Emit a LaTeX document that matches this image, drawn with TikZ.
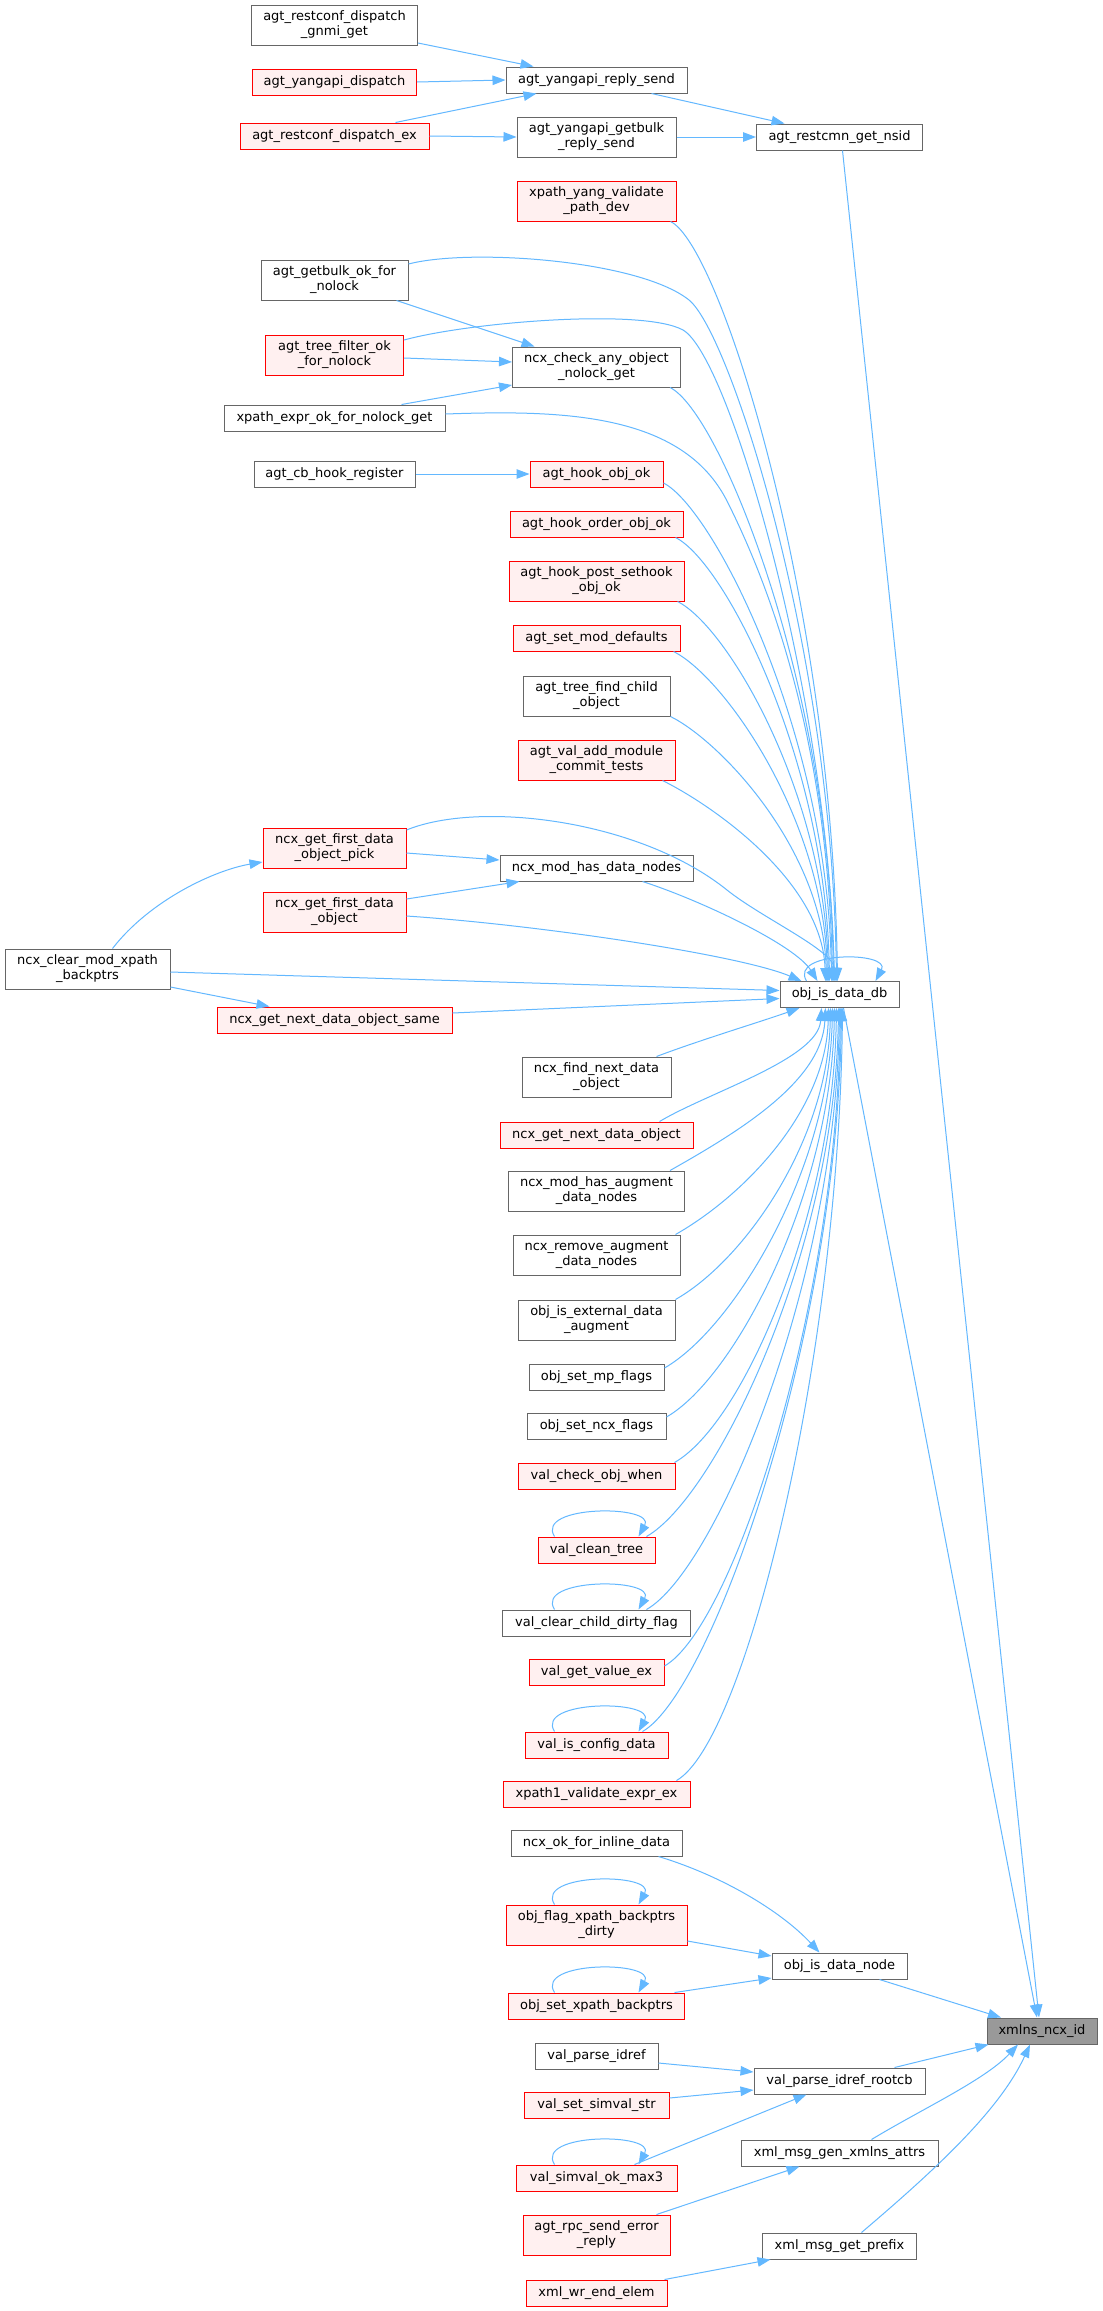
\documentclass[tikz,border=0pt]{standalone}
\usepackage{fontspec}
\setmainfont{DejaVu Sans}
\usetikzlibrary{arrows.meta}
\definecolor{edgec}{HTML}{63B8FF}
\definecolor{bordc}{HTML}{666666}
\definecolor{redfill}{HTML}{FFF0F0}
\definecolor{tgtfill}{HTML}{999999}
\begin{document}
\begin{tikzpicture}[x=1pt,y=-1pt,font=\fontsize{13}{15}\selectfont,
  fn/.style={draw=bordc,fill=white,line width=1pt,inner sep=0pt,align=center,minimum height=26pt},
  rn/.style={fn,draw=red,fill=redfill},
  tn/.style={fn,fill=tgtfill},
  two/.style={minimum height=40pt},
  e/.style={draw=edgec,line width=1pt,-{Triangle[length=13pt,width=9.5pt]}}]
\fill[white] (0,0) rectangle (1103,2311);
\useasboundingbox (0,0) rectangle (1103,2311);
% column 1
\node[fn,two,minimum width=166pt] (gnmi) at (334.5,25) {agt\_restconf\_dispatch\\\_gnmi\_get};
\node[rn,minimum width=164pt] (ydisp) at (334.5,82) {agt\_yangapi\_dispatch};
\node[rn,minimum width=189pt] (rdex) at (334.5,136) {agt\_restconf\_dispatch\_ex};
\node[fn,two,minimum width=147pt] (getbulkok) at (334.5,280) {agt\_getbulk\_ok\_for\\\_nolock};
\node[rn,two,minimum width=138pt] (treefilter) at (334.5,355) {agt\_tree\_filter\_ok\\\_for\_nolock};
\node[fn,minimum width=221pt] (xpathexpr) at (334.5,418) {xpath\_expr\_ok\_for\_nolock\_get};
\node[fn,minimum width=161pt] (cbhook) at (334.5,474) {agt\_cb\_hook\_register};
\node[rn,two,minimum width=143pt] (pick) at (334.5,848) {ncx\_get\_first\_data\\\_object\_pick};
\node[rn,two,minimum width=143pt] (firstdata) at (334.5,912) {ncx\_get\_first\_data\\\_object};
\node[rn,minimum width=235pt] (nextsame) at (334.5,1020) {ncx\_get\_next\_data\_object\_same};
% column 0
\node[fn,two,minimum width=165pt] (clearmod) at (87.5,969) {ncx\_clear\_mod\_xpath\\\_backptrs};
% column 2
\node[fn,minimum width=181pt] (yreply) at (596.5,80) {agt\_yangapi\_reply\_send};
\node[fn,two,minimum width=159pt] (ygetbulk) at (596.5,137) {agt\_yangapi\_getbulk\\\_reply\_send};
\node[rn,two,minimum width=159pt] (xyang) at (596.5,201) {xpath\_yang\_validate\\\_path\_dev};
\node[fn,two,minimum width=168pt] (ncxcheck) at (596.5,367) {ncx\_check\_any\_object\\\_nolock\_get};
\node[rn,minimum width=133pt] (hookobj) at (596.5,474) {agt\_hook\_obj\_ok};
\node[rn,minimum width=173pt] (hookorder) at (596.5,524) {agt\_hook\_order\_obj\_ok};
\node[rn,two,minimum width=175pt] (hookpost) at (596.5,581) {agt\_hook\_post\_sethook\\\_obj\_ok};
\node[rn,minimum width=167pt] (setmod) at (596.5,638) {agt\_set\_mod\_defaults};
\node[fn,two,minimum width=147pt] (treefind) at (596.5,696) {agt\_tree\_find\_child\\\_object};
\node[rn,two,minimum width=157pt] (valadd) at (596.5,760) {agt\_val\_add\_module\\\_commit\_tests};
\node[fn,minimum width=193pt] (modhas) at (596.5,868) {ncx\_mod\_has\_data\_nodes};
\node[fn,two,minimum width=149pt] (findnext) at (596.5,1077) {ncx\_find\_next\_data\\\_object};
\node[rn,minimum width=193pt] (nextdata) at (596.5,1135) {ncx\_get\_next\_data\_object};
\node[fn,two,minimum width=176pt] (modaug) at (596.5,1191) {ncx\_mod\_has\_augment\\\_data\_nodes};
\node[fn,two,minimum width=167pt] (remaug) at (596.5,1255) {ncx\_remove\_augment\\\_data\_nodes};
\node[fn,two,minimum width=157pt] (extaug) at (596.5,1320) {obj\_is\_external\_data\\\_augment};
\node[fn,minimum width=135pt] (mpflags) at (596.5,1377) {obj\_set\_mp\_flags};
\node[fn,minimum width=139pt] (ncxflags) at (596.5,1426) {obj\_set\_ncx\_flags};
\node[rn,minimum width=157pt] (checkwhen) at (596.5,1476) {val\_check\_obj\_when};
\node[rn,minimum width=117pt] (cleantree) at (596.5,1550) {val\_clean\_tree};
\node[fn,minimum width=188pt] (cleardirty) at (596.5,1623) {val\_clear\_child\_dirty\_flag};
\node[rn,minimum width=135pt] (getvalue) at (596.5,1672) {val\_get\_value\_ex};
\node[rn,minimum width=143pt] (isconfig) at (596.5,1745) {val\_is\_config\_data};
\node[rn,minimum width=187pt] (xpath1) at (596.5,1794) {xpath1\_validate\_expr\_ex};
\node[fn,minimum width=171pt] (inlinedata) at (596.5,1843) {ncx\_ok\_for\_inline\_data};
\node[rn,two,minimum width=181pt] (flagdirty) at (596.5,1925) {obj\_flag\_xpath\_backptrs\\\_dirty};
\node[rn,minimum width=176pt] (setxpath) at (596.5,2006) {obj\_set\_xpath\_backptrs};
\node[fn,minimum width=123pt] (parseidref) at (596.5,2056) {val\_parse\_idref};
\node[rn,minimum width=145pt] (setsimval) at (596.5,2105) {val\_set\_simval\_str};
\node[rn,minimum width=161pt] (simvalmax) at (596.5,2178) {val\_simval\_ok\_max3};
\node[rn,two,minimum width=147pt] (rpcerr) at (596.5,2235) {agt\_rpc\_send\_error\\\_reply};
\node[rn,minimum width=141pt] (wrend) at (596.5,2293) {xml\_wr\_end\_elem};
% column 3
\node[fn,minimum width=166pt] (nsid) at (839.5,137) {agt\_restcmn\_get\_nsid};
\node[fn,minimum width=119pt] (db) at (839.5,994.5) {obj\_is\_data\_db};
\node[fn,minimum width=135pt] (datanode) at (839.5,1966) {obj\_is\_data\_node};
\node[fn,minimum width=171pt] (rootcb) at (839.5,2081) {val\_parse\_idref\_rootcb};
\node[fn,minimum width=197pt] (genxmlns) at (839.5,2153) {xml\_msg\_gen\_xmlns\_attrs};
\node[fn,minimum width=154pt] (getprefix) at (839.5,2246) {xml\_msg\_get\_prefix};
% target
\node[tn,minimum width=110pt] (target) at (1042,2031) {xmlns\_ncx\_id};

% ---- upper left edges
\draw[e] ([yshift=-18pt]gnmi.east) -- ([xshift=-63pt]yreply.north);
\draw[e] (ydisp.east) -- (yreply.west);
\draw[e] ([xshift=61pt]rdex.north) -- ([xshift=-60pt]yreply.south);
\draw[e] (rdex.east) -- (ygetbulk.west);
\draw[e] ([xshift=55pt]yreply.south) -- ([xshift=-55pt]nsid.north);
\draw[e] (ygetbulk.east) -- (nsid.west);
\draw[e] ([xshift=3pt]nsid.south) -- ([xshift=-3pt]target.north);
\draw[e] ([xshift=62pt]getbulkok.south) -- ([xshift=-62pt]ncxcheck.north);
\draw[e] ([yshift=-3pt]treefilter.east) -- ([yshift=5pt]ncxcheck.west);
\draw[e] ([xshift=67pt]xpathexpr.north) -- ([yshift=-18pt]ncxcheck.west);
\draw[e] (cbhook.east) -- (hookobj.west);
\draw[e] ([yshift=-5pt]pick.east) -- ([yshift=8pt]modhas.west);
\draw[e] ([yshift=13pt]firstdata.east) -- ([xshift=-77pt]modhas.south);
\draw[e] ([xshift=25pt]clearmod.north) .. controls (150,900) and (215,870) .. ([yshift=-14pt]pick.west);
\draw[e] ([yshift=-3pt]clearmod.east) -- ([yshift=4pt]db.west);
\draw[e] ([yshift=-18pt]clearmod.east) -- ([xshift=-65pt]nextsame.north);
\draw[e] ([yshift=7pt]nextsame.east) -- ([yshift=-4pt]db.west);

% ---- top group into obj_is_data_db
\draw[e] ([xshift=-6pt]xyang.south east) .. controls (720,245) and (832,600) .. ([xshift=-2pt]db.north);
\draw[e] ([yshift=16pt]getbulkok.east) .. controls (470,248) and (639,260) .. (689,300) .. controls (730,333) and (832,650) .. ([xshift=-3pt]db.north);
\draw[e] ([yshift=15pt]treefilter.east) .. controls (470,322) and (643,308) .. (683,330) .. controls (730,357) and (828,700) .. ([xshift=-5pt]db.north);
\draw[e] ([yshift=4pt]xpathexpr.east) .. controls (560,410) and (682,412) .. (727,501) .. controls (787,620) and (829,780) .. ([xshift=-7pt]db.north);
\draw[e] ([xshift=-11pt]ncxcheck.south east) .. controls (720,412) and (830,685) .. ([xshift=-6pt]db.north);
\draw[e] ([yshift=-9pt]hookobj.east) .. controls (713,508) and (828,732) .. ([xshift=-8pt]db.north);
\draw[e] ([xshift=-8pt]hookorder.south east) .. controls (725,562) and (826,760) .. ([xshift=-10pt]db.north);
\draw[e] ([xshift=-7pt]hookpost.south east) .. controls (727,626) and (825,792) .. ([xshift=-11pt]db.north);
\draw[e] ([xshift=-7pt]setmod.south east) .. controls (723,676) and (824,817) .. ([xshift=-12pt]db.north);
\draw[e] (treefind.south east) .. controls (720,741) and (823,849) .. ([xshift=-13pt]db.north);
\draw[e] ([xshift=-13pt]valadd.south east) .. controls (712,805) and (822,881) .. ([xshift=-14pt]db.north);
\draw[e] ([yshift=18pt]pick.east) .. controls (480,800) and (640,820) .. (727,890) .. controls (762,918) and (833,950) .. ([xshift=-4pt]db.north);
\draw[e] ([xshift=46pt]modhas.south) .. controls (700,900) and (795,945) .. ([xshift=-22pt]db.north);
\draw[e] ([yshift=-4pt]firstdata.east) .. controls (540,925) and (740,955) .. ([xshift=-38pt]db.north);
% self loop
\draw[e] ([xshift=-33pt]db.north) .. controls +(-18,-30) and +(16,-30) .. ([xshift=36pt]db.north);

% ---- bottom group into obj_is_data_db
\draw[e] ([xshift=60pt]findnext.north) .. controls (700,1040) and (760,1022) .. ([xshift=-40pt]db.south);
\draw[e] ([xshift=63pt]nextdata.north) .. controls (709,1092) and (818,1059) .. ([xshift=-18pt]db.south);
\draw[e] ([xshift=-15pt]modaug.north east) .. controls (740,1131) and (822,1081) .. ([xshift=-14pt]db.south);
\draw[e] ([xshift=-5pt]remaug.north east) .. controls (745,1195) and (826,1110) .. ([xshift=-11pt]db.south);
\draw[e] (extaug.north east) .. controls (745,1260) and (828,1140) .. ([xshift=-9pt]db.south);
\draw[e] ([yshift=9pt]mpflags.east) .. controls (734,1328) and (829,1170) .. ([xshift=-7pt]db.south);
\draw[e] ([yshift=9pt]ncxflags.east) .. controls (736,1377) and (831,1192) .. ([xshift=-5pt]db.south);
\draw[e] ([xshift=-1pt]checkwhen.north east) .. controls (744,1423) and (833,1213) .. ([xshift=-3pt]db.south);
\draw[e] ([xshift=50pt]cleantree.north) .. controls (716,1497) and (835,1250) .. ([xshift=-1pt]db.south);
\draw[e] ([xshift=50pt]cleardirty.north) .. controls (716,1570) and (836,1282) .. (db.south);
\draw[e] ([yshift=6pt]getvalue.east) .. controls (734,1626) and (837,1304) .. ([xshift=1pt]db.south);
\draw[e] ([xshift=46pt]isconfig.north) .. controls (712,1692) and (838,1334) .. ([xshift=2pt]db.south);
\draw[e] ([xshift=80pt]xpath1.north) .. controls (746,1741) and (839,1356) .. ([xshift=3pt]db.south);
% self loops
\draw[e] ([xshift=-42pt]cleantree.north) .. controls +(-20,-32) and +(18,-32) .. ([xshift=42pt]cleantree.north);
\draw[e] ([xshift=-42pt]cleardirty.north) .. controls +(-20,-32) and +(18,-32) .. ([xshift=42pt]cleardirty.north);
\draw[e] ([xshift=-42pt]isconfig.north) .. controls +(-20,-32) and +(18,-32) .. ([xshift=42pt]isconfig.north);
\draw[e] ([xshift=-42pt]flagdirty.north) .. controls +(-20,-32) and +(18,-32) .. ([xshift=42pt]flagdirty.north);
\draw[e] ([xshift=-42pt]setxpath.north) .. controls +(-20,-32) and +(18,-32) .. ([xshift=42pt]setxpath.north);
\draw[e] ([xshift=-42pt]simvalmax.north) .. controls +(-20,-32) and +(18,-32) .. ([xshift=42pt]simvalmax.north);

% ---- lower part
\draw[e] ([xshift=4pt]db.south) -- ([xshift=-5pt]target.north);
\draw[e] ([xshift=62pt]inlinedata.south) .. controls (720,1875) and (780,1910) .. ([xshift=-20pt]datanode.north);
\draw[e] ([yshift=-16pt]flagdirty.east) -- ([yshift=10pt]datanode.west);
\draw[e] ([xshift=78pt]setxpath.north) -- ([yshift=-12pt]datanode.west);
\draw[e] ([yshift=-7pt]parseidref.east) -- ([yshift=9pt]rootcb.west);
\draw[e] ([yshift=7pt]setsimval.east) -- ([yshift=-9pt]rootcb.west);
\draw[e] ([xshift=38pt]simvalmax.north) -- ([xshift=-33pt]rootcb.south);
\draw[e] ([xshift=60pt]rpcerr.north) -- ([xshift=-40pt]genxmlns.south);
\draw[e] ([xshift=68pt]wrend.north) -- ([xshift=-69pt]getprefix.south);
\draw[e] ([xshift=40pt]datanode.south) -- ([xshift=-41pt]target.north);
\draw[e] ([xshift=55pt]rootcb.north) -- ([xshift=2pt]target.south west);
\draw[e] ([xshift=32pt]genxmlns.north) .. controls (920,2110) and (985,2080) .. ([xshift=-24pt]target.south);
\draw[e] ([xshift=22pt]getprefix.north) .. controls (935,2170) and (1000,2110) .. ([xshift=-12pt]target.south);
\end{tikzpicture}
\end{document}
